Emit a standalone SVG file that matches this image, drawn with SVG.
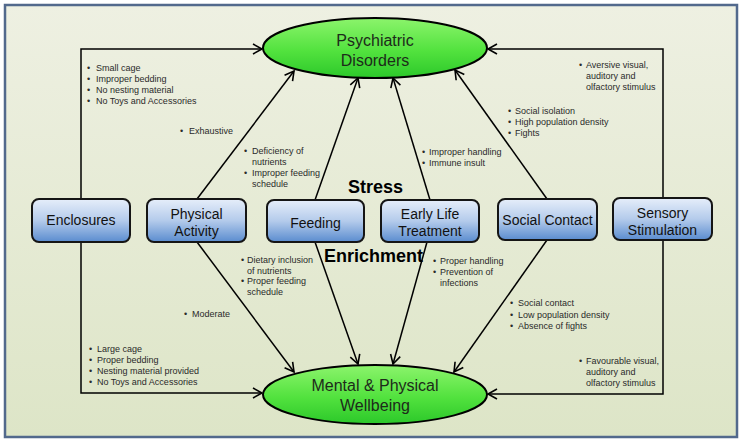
<svg xmlns="http://www.w3.org/2000/svg" width="744" height="443" viewBox="0 0 744 443">
<defs>
<linearGradient id="bg" x1="0" y1="0" x2="0" y2="1">
<stop offset="0" stop-color="#eef0e2"/>
<stop offset="1" stop-color="#dde5c7"/>
</linearGradient>
<linearGradient id="ell" x1="0" y1="0" x2="0" y2="1">
<stop offset="0" stop-color="#8cf46c"/>
<stop offset="0.55" stop-color="#52e23e"/>
<stop offset="1" stop-color="#2cc82a"/>
</linearGradient>
<linearGradient id="box" x1="0" y1="0" x2="0" y2="1">
<stop offset="0" stop-color="#e6eefa"/>
<stop offset="0.5" stop-color="#b4cbeb"/>
<stop offset="1" stop-color="#5a8ccf"/>
</linearGradient>
<marker id="arr" markerUnits="userSpaceOnUse" markerWidth="14" markerHeight="14" refX="10" refY="6" orient="auto">
<path d="M1,1 L10,6 L1,11" fill="none" stroke="#000" stroke-width="1.6"/>
</marker>
</defs>
<style>
.node rect{fill:url(#box);stroke:#151515;stroke-width:2}
.node ellipse{fill:url(#ell);stroke:#000;stroke-width:2}
.bl{font-family:"Liberation Sans",Arial,sans-serif;font-size:14px;fill:#111;text-anchor:middle}
.el{font-family:"Liberation Sans",Arial,sans-serif;font-size:16px;fill:#1d2b1a;text-anchor:middle}
.lb{font-family:"Liberation Sans",Arial,sans-serif;font-size:9px;fill:#2a2a2a}
.big{font-family:"Liberation Sans",Arial,sans-serif;font-size:18px;font-weight:bold;fill:#000}
#connectors path,#connectors line{fill:none;stroke:#000;stroke-width:1.5}
</style>
<rect x="0" y="0" width="744" height="443" fill="#ffffff"/>
<rect x="5" y="5" width="732" height="432" fill="url(#bg)" stroke="#52698c" stroke-width="2.5"/>

<g id="connectors">
<path d="M81,199 V49 H262" marker-end="url(#arr)"/>
<path d="M81,242 V393 H262" marker-end="url(#arr)"/>
<path d="M663,198 V49 H488" marker-end="url(#arr)"/>
<path d="M663,240 V394 H488" marker-end="url(#arr)"/>
<line x1="197" y1="199" x2="294" y2="71" marker-end="url(#arr)"/>
<line x1="315" y1="200" x2="358" y2="78" marker-end="url(#arr)"/>
<line x1="430" y1="200" x2="393" y2="78" marker-end="url(#arr)"/>
<line x1="547" y1="199" x2="455" y2="70" marker-end="url(#arr)"/>
<line x1="197" y1="242" x2="294" y2="372" marker-end="url(#arr)"/>
<line x1="315" y1="242" x2="358" y2="364" marker-end="url(#arr)"/>
<line x1="427" y1="242" x2="393" y2="364" marker-end="url(#arr)"/>
<line x1="547" y1="240" x2="454" y2="372" marker-end="url(#arr)"/>
</g>

<g id="psychiatric" class="node">
<ellipse cx="375" cy="48" rx="112" ry="30"/>
<text class="el" x="375" y="46">Psychiatric</text>
<text class="el" x="375" y="66">Disorders</text>
</g>
<g id="wellbeing" class="node">
<ellipse cx="375" cy="394.5" rx="112" ry="29.5"/>
<text class="el" x="375" y="391">Mental &amp; Physical</text>
<text class="el" x="375" y="411">Wellbeing</text>
</g>

<g id="enclosures" class="node">
<rect x="32" y="199" width="98" height="43" rx="7"/>
<text class="bl" x="81" y="225">Enclosures</text>
</g>
<g id="physical" class="node">
<rect x="147" y="199" width="99" height="43" rx="7"/>
<text class="bl" x="196.5" y="219">Physical</text>
<text class="bl" x="196.5" y="236">Activity</text>
</g>
<g id="feeding" class="node">
<rect x="267" y="200" width="97" height="42" rx="7"/>
<text class="bl" x="315.5" y="228">Feeding</text>
</g>
<g id="earlylife" class="node">
<rect x="381" y="200" width="98" height="42" rx="7"/>
<text class="bl" x="430" y="219">Early Life</text>
<text class="bl" x="430" y="236">Treatment</text>
</g>
<g id="social" class="node">
<rect x="498" y="199" width="99" height="41" rx="7"/>
<text class="bl" x="547.5" y="225">Social Contact</text>
</g>
<g id="sensory" class="node">
<rect x="613" y="198" width="99" height="42" rx="7"/>
<text class="bl" x="662.5" y="218">Sensory</text>
<text class="bl" x="662.5" y="235">Stimulation</text>
</g>

<g id="labels">
<text class="big" x="348" y="193">Stress</text>
<text class="big" x="324" y="262">Enrichment</text>

<text class="lb"><tspan x="87" y="71">•</tspan><tspan x="96" y="71">Small cage</tspan><tspan x="87" y="82">•</tspan><tspan x="96" y="82">Improper bedding</tspan><tspan x="87" y="93">•</tspan><tspan x="96" y="93">No nesting material</tspan><tspan x="87" y="104">•</tspan><tspan x="96" y="104">No Toys and Accessories</tspan></text>
<text class="lb"><tspan x="180" y="134">•</tspan><tspan x="189" y="134">Exhaustive</tspan></text>
<text class="lb"><tspan x="244" y="154">•</tspan><tspan x="252" y="154">Deficiency of</tspan><tspan x="252" y="165">nutrients</tspan><tspan x="244" y="176">•</tspan><tspan x="252" y="176">Improper feeding</tspan><tspan x="252" y="187">schedule</tspan></text>
<text class="lb"><tspan x="422" y="155">•</tspan><tspan x="429" y="155">Improper handling</tspan><tspan x="422" y="166">•</tspan><tspan x="429" y="166">Immune insult</tspan></text>
<text class="lb"><tspan x="508" y="114">•</tspan><tspan x="515" y="114">Social isolation</tspan><tspan x="508" y="125">•</tspan><tspan x="515" y="125">High population density</tspan><tspan x="508" y="136">•</tspan><tspan x="515" y="136">Fights</tspan></text>
<text class="lb"><tspan x="579" y="68">•</tspan><tspan x="586" y="68">Aversive visual,</tspan><tspan x="586" y="79">auditory and</tspan><tspan x="586" y="90">olfactory stimulus</tspan></text>

<text class="lb"><tspan x="241" y="263">•</tspan><tspan x="247" y="263">Dietary inclusion</tspan><tspan x="247" y="274">of nutrients</tspan><tspan x="241" y="284">•</tspan><tspan x="247" y="284">Proper feeding</tspan><tspan x="247" y="295">schedule</tspan></text>
<text class="lb"><tspan x="184" y="317">•</tspan><tspan x="192" y="317">Moderate</tspan></text>
<text class="lb"><tspan x="89" y="352">•</tspan><tspan x="97" y="352">Large cage</tspan><tspan x="89" y="363">•</tspan><tspan x="97" y="363">Proper bedding</tspan><tspan x="89" y="374">•</tspan><tspan x="97" y="374">Nesting material provided</tspan><tspan x="89" y="385">•</tspan><tspan x="97" y="385">No Toys and Accessories</tspan></text>
<text class="lb"><tspan x="433" y="264">•</tspan><tspan x="440" y="264">Proper handling</tspan><tspan x="433" y="275">•</tspan><tspan x="440" y="275">Prevention of</tspan><tspan x="440" y="286">infections</tspan></text>
<text class="lb"><tspan x="510" y="306">•</tspan><tspan x="518" y="306">Social contact</tspan><tspan x="510" y="318">•</tspan><tspan x="518" y="318">Low population density</tspan><tspan x="510" y="329">•</tspan><tspan x="518" y="329">Absence of fights</tspan></text>
<text class="lb"><tspan x="579" y="364">•</tspan><tspan x="586" y="364">Favourable visual,</tspan><tspan x="586" y="375">auditory and</tspan><tspan x="586" y="386">olfactory stimulus</tspan></text>
</g>
</svg>
